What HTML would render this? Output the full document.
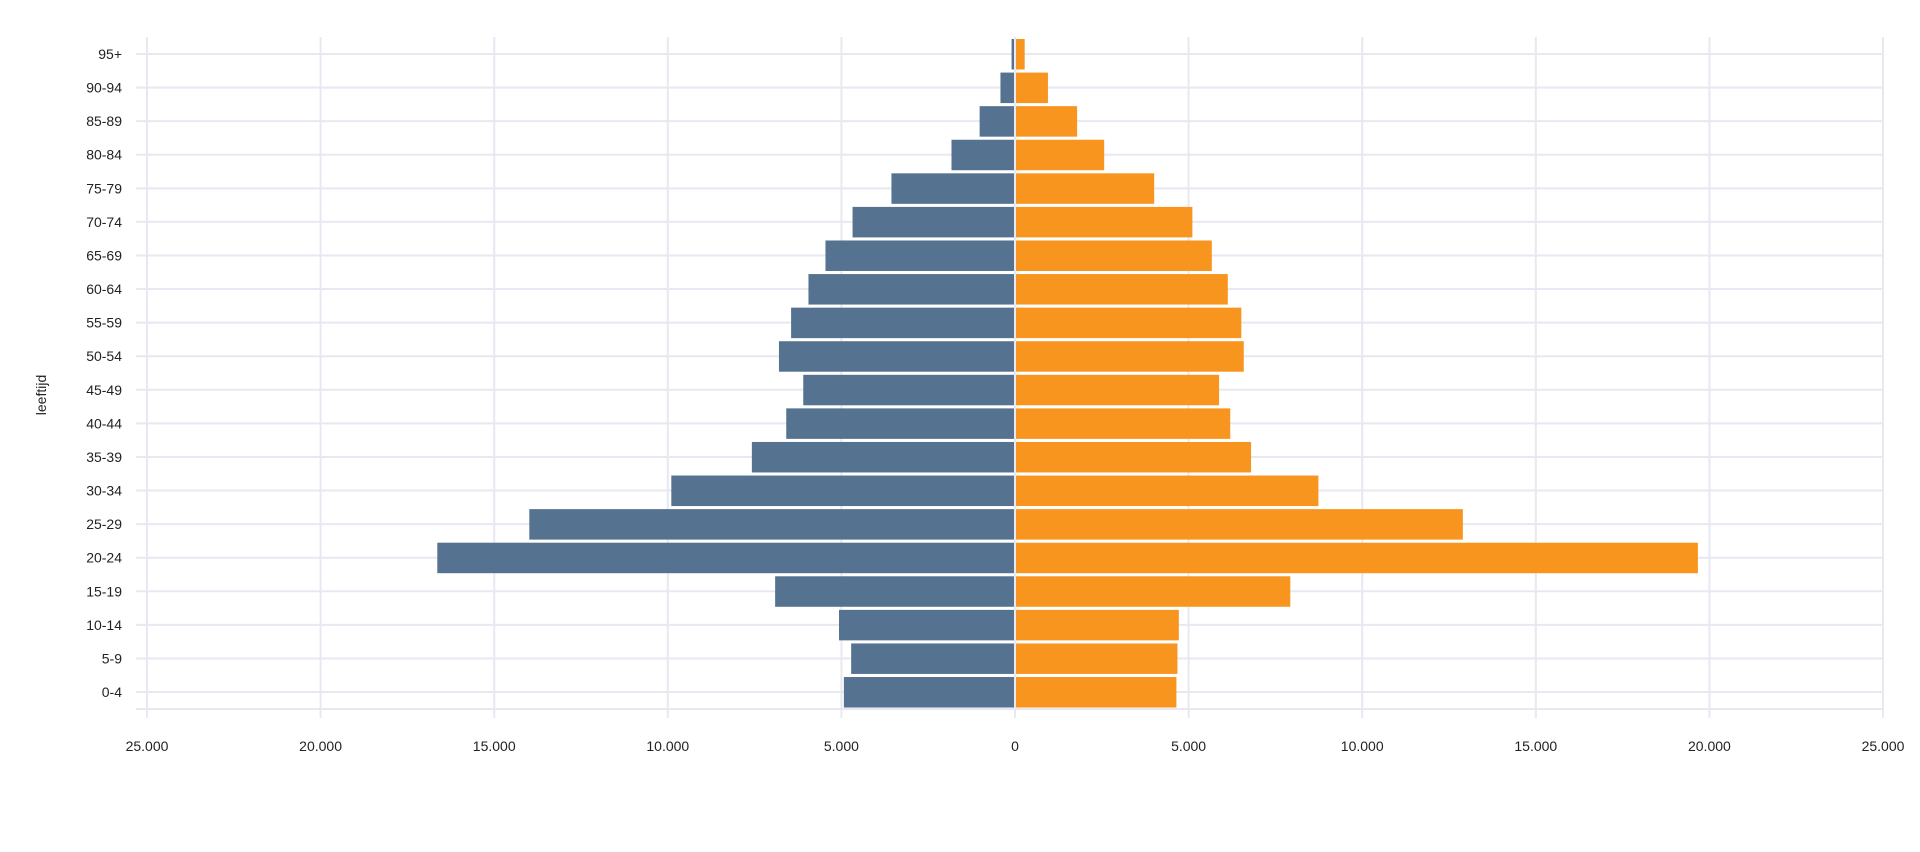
<!DOCTYPE html>
<html><head><meta charset="utf-8"><style>
html,body{margin:0;padding:0;background:#fff;}
svg{display:block;font-family:"Liberation Sans",Arial,sans-serif;}
</style></head><body>
<svg width="1920" height="852" viewBox="0 0 1920 852" xmlns="http://www.w3.org/2000/svg">
<g id="grid" stroke="#e8e8f2" stroke-width="2"></g>
<g id="bars"></g>
<g id="labels" font-size="14" fill="#222"></g>
<text x="46" y="395" font-size="14" fill="#222" text-anchor="middle" transform="rotate(-90 46 395)">leeftijd</text>
<script>
var ns="http://www.w3.org/2000/svg";
function el(p,t,a,txt){var e=document.createElementNS(ns,t);for(var k in a)e.setAttribute(k,a[k]);if(txt!=null)e.textContent=txt;document.getElementById(p).appendChild(e);}
var cats=["95+","90-94","85-89","80-84","75-79","70-74","65-69","60-64","55-59","50-54","45-49","40-44","35-39","30-34","25-29","20-24","15-19","10-14","5-9","0-4"];
var m=[70,390,990,1800,3530,4650,5430,5920,6420,6770,6070,6560,7550,9870,13960,16610,6880,5040,4690,4900];
var f=[250,920,1760,2540,3980,5080,5640,6100,6490,6560,5850,6170,6770,8710,12870,19640,7900,4690,4650,4620];
var x0=1015,k=173.6/5000,y0=54,step=33.58;
for(var i=-5;i<=5;i++){var x=x0+i*173.6;el("grid","line",{x1:x,y1:37,x2:x,y2:718});
 el("labels","text",{x:x,y:751,"text-anchor":"middle"},(Math.abs(i)*5000).toLocaleString("de-DE"));}
for(var j=0;j<20;j++){var y=y0+j*step;el("grid","line",{x1:136,y1:y,x2:1884,y2:y});
 el("labels","text",{x:122,y:y+5,"text-anchor":"end"},cats[j]);
 var w=m[j]*k;el("bars","rect",{x:x0-1-w,y:y-15,width:w,height:30.5,fill:"#557390"});
 var w2=f[j]*k;el("bars","rect",{x:x0+1,y:y-15,width:w2,height:30.5,fill:"#f7951f"});}
el("grid","line",{x1:136,y1:709,x2:1884,y2:709});
</script>
</svg>
</body></html>
